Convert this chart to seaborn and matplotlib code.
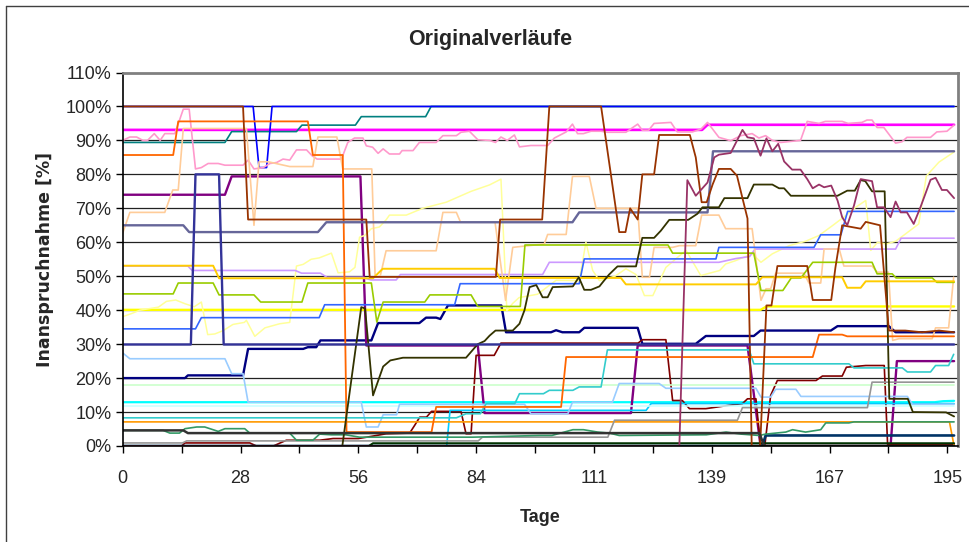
import matplotlib
matplotlib.use("Agg")
import matplotlib.pyplot as plt
import seaborn as sns
import pandas as pd
from matplotlib.lines import Line2D

# ---------------- data (day, percent) vertices ----------------
s_navy = [(0,20),(14.8,20),(15.5,20.8),(28.6,20.8),(29.8,28.6),(42.9,28.6),(44,29.1),(46,29.1),(47,31.1),(59.1,31.1),
          (60.7,36.2),(70.5,36.2),(72.1,37.8),(74.5,37.8),(75.5,37.4),(77.3,41.4),(90,41.4),(91.1,33.5),(101.8,33.5),(103,34.1),
          (104.5,33.5),(108.5,33.5),(109.7,34.8),(122.4,34.8),(123.5,30.1),(136.2,30.1),(138.6,32.4),(150,32.4),(151.6,34),(168.3,34),
          (169.9,35.3),(182.1,35.3),(183.7,33.5),(197.6,33.5)]
s_magenta = [(0,93.1),(137.7,93.1),(139,94.6),(197.6,94.6)]
s_yellow = [(0,40.1),(151.6,40.1),(153,41.1),(197.6,41.1)]
s_cyan = [(0,12.9),(193,12.9),(195,13.2),(197.6,13.3)]
s_purple = [(0,74),(24.3,74),(25.9,79.4),(56.5,79.4),(57.9,29.6),(84.4,29.6),(86,9.7),(120.8,9.7),(122.4,29.6),(148.5,29.6),
            (151.6,0),(182.5,0),(184,25),(197.6,25)]
s_darkred = [(0,0),(14,0),(14.8,0.9),(30.2,0.9),(31.8,0),(35.8,0),(38.9,1.7),(46.8,1.7),(50,2.2),(56,2.2),
             (58,2.6),(62.6,3.6),(68.2,3.8),(69.4,6.1),(70.6,8.5),(72.2,8.5),(73.4,10.2),(80.4,10.2),(81.6,3.6),(82.8,3.6),
             (84,26.7),(88.3,26.7),(89.9,30.3),(122.5,30.3),(123.5,31.3),(129.1,31.3),(130.7,13.4),(133,13.4),(134.7,11),(138.6,11),
             (144.2,12),(147.3,12.5),(148.5,13.9),(150.5,13.9),(151.6,0),(152.6,0),(154,14.9),(155.6,19.3),(164.8,19.3),(166.3,20.6),
             (171,20.6),(172,23.2),(176.6,23.7),(181,23.7),(181.8,0.4),(197.6,0.4)]
s_teal = [(0,89.4),(24.3,89.4),(25.9,92.6),(41.3,92.6),(42.6,94.5),(55.3,94.5),(56.7,97),(72,97),(73.3,100),(197.6,100)]
s_blue = [(0,100),(31,100),(32.4,82),(34.2,82),(35.5,100),(197.6,100)]
s_skyblue = [(0,0),(77,0),(77.8,10.5),(124.4,10.5),(125.6,12.5),(197.6,12.5)]
s_lightturq = [(0,11.7),(197.6,11.7)]
s_lightgreen = [(0,17.9),(197.6,17.9)]
s_lightyellow = [(0,38.1),(2.1,39),(4.1,40),(8.5,40.9),(10.4,42.6),(12.6,43),(14.8,41.9),(17,41),(18.7,42.4),(20.2,32.8),
                 (21.9,33),(23.9,34),(26.2,35.8),(28.9,36.4),(29.4,37),(31.4,32.3),(33.8,34.8),(37.3,36),(39.7,36.4),(41.3,53),
                 (42.9,53.5),(44.8,55),(46.7,55.4),(49.6,56.8),(51.2,51),(53.9,51.3),(55.2,52.6),(56.3,61.5),(57.5,62),(59.1,64),
                 (61,64.5),(62.6,66.6),(63.4,68),(67.4,68),(71.3,70),(76.9,71.8),(80.4,73.7),(82.8,75),(87.2,76.9),(89.9,78.6),
                 (91.3,39.9),(92.7,42),(94.2,43.7),(98.6,44.7),(103,48.8),(108.5,48.7),(110.1,60),(111.7,51.7),(113.3,48.7),(117,50),
                 (119.6,52.2),(122,50.5),(124,44.3),(126,44.3),(129.1,52.6),(132.3,56),(133.9,57.6),(137.4,50.2),(141.9,51.7),(143.3,53.6),
                 (145.7,54.6),(149.6,56.6),(151.7,54.1),(154.4,56.6),(158.4,59),(162.3,60.3),(165.5,62),(168.8,65),(171.9,67.9),(174.2,70.3),
                 (176.6,72.3),(177.8,57.6),(179.4,60),(181.5,59.5),(183.7,60.3),(186.1,62.5),(189.2,65.4),(191,79.5),(194,83.6),(197.6,86.6)]
s_paleblue = [(0,27.4),(1.7,25.7),(24.3,25.7),(25.9,21.3),(28.6,21.3),(29.8,12.9),(56.7,12.9),(57.9,5.6),(60.7,5.6),(61.9,9.2),
              (65.1,9.2),(65.8,12.3),(95.5,12.3),(97,9.5),(105.8,9.5),(106.9,12.9),(116.4,12.9),(118,18.4),(127.5,18.4),(129.1,17),
              (150.5,17),(151.7,14.4),(154,14.4),(155.2,16.7),(160,16.7),(161.2,14.6),(186.5,14.6),(187.7,12.3),(197.6,12.3)]
s_rose = [(0,90),(1.7,91),(3.3,91),(4.8,90),(5.9,90),(7.5,92),(8.9,90),(10,92),(12.4,92),(14.4,99.2),
          (15.8,99.2),(17.3,81.6),(18.7,82),(20.3,83.2),(22.7,83.2),(24.3,82.7),(28.6,82.7),(29.8,84.2),(31.2,81.6),(33.4,82),
          (35,83.2),(36.6,83.5),(38.1,84.5),(39.7,84.2),(41.3,87.2),(43.7,87.2),(45,85.5),(46.2,84.5),(52,84.5),(53.5,89.4),
          (55.1,90.7),(57.1,90.7),(57.9,88.4),(59.4,88),(60.7,86.2),(61.9,87.5),(63.4,86),(65.8,86),(66.4,87),(69,87),
          (70.5,89.4),(74.5,89.4),(76.1,91.4),(79.3,91.4),(80.4,92.4),(82.4,92.7),(84.4,90.2),(87.2,90),(88.6,89.4),(89.9,91),
          (91.4,90),(93.1,91.6),(94.3,88.1),(97,88.5),(101,88.5),(102.6,90.7),(105.4,92.5),(106.9,94.8),(108.1,92),(109.5,92),
          (111.3,92.7),(113.7,92.7),(115.2,92.4),(119.6,92.4),(122.4,94.8),(123.5,93),(125,93),(126.3,95),(130.3,95.3),(131.8,92.5),
          (135.4,92.5),(137.4,93.3),(139,95.3),(141.7,90.9),(144.5,89.9),(146.9,91.4),(149.6,92),(151.2,90.7),(152.8,91.4),(154.4,90),
          (156.4,89.4),(161.1,90),(162.7,95.6),(165.5,95),(167,95.6),(171,95.6),(172.4,95),(175.7,95.3),(176.9,96),(178.1,96),
          (179.3,93.8),(180.9,93.8),(183.7,89.2),(185.2,89.6),(186.4,90.9),(192,90.9),(193.5,92.5),(195.9,92.7),(197.6,94.5)]
s_lavender = [(0,53),(15.5,53),(16.5,51.7),(41,51.7),(42.5,50.9),(47,50.9),(48.5,49.7),(57,49.7),(59,48.9),(65,48.9),
              (66,50.5),(99.8,50.5),(101.4,54.1),(141.7,54.1),(145.7,55.2),(149,55.8),(150.3,58),(183.7,58),(185,61.2),(197.6,61.2)]
s_tan = [(0,62.7),(1.7,68.8),(10,68.8),(11.9,75.4),(13.2,75.4),(14.4,93.5),(29.4,93.5),(31.2,65),(32.4,83.7),(34.6,83.7),
         (39.7,82.3),(45.2,82.3),(46.4,91),(50.9,91),(52.3,81.6),(59.2,81.6),(60,49.7),(61.2,50),(62.6,57.5),(74.5,57.5),
         (76.1,68.8),(79.3,68.8),(80.3,65.9),(88.5,65.9),(91,42.9),(92.7,58.5),(100.2,59.5),(101,62.3),(105.4,62.3),(106.9,79.4),
         (110.9,79.4),(112.5,70),(122.4,70),(123.5,49.7),(125.2,49.7),(126.3,58.5),(130.7,58.5),(132.3,59),(136.2,59),(137.6,68),
         (141.7,68),(143.3,64),(149.6,64),(151.7,42.9),(152.9,46.3),(154,46.3),(155.2,50.9),(161.9,50.9),(163.1,48),(165.9,48),
         (166.7,58),(170.3,58),(171.4,53),(178.1,53),(179.3,51.2),(182,51.2),(183,31.1),(184.5,31.6),(192.4,31.6),(193.2,34.8),
         (196.3,34.8),(197.5,49.7)]
s_lightblue = [(0,34.5),(17.3,34.5),(18.7,37.8),(46.7,37.8),(48,41.6),(78.9,41.6),(80.2,47.8),(108.5,47.8),(109.7,55.1),(141,55.1),
               (141.7,58.5),(164.3,58.5),(165.9,62.2),(170.7,62.2),(172.3,69.1),(197.6,69.1)]
s_aqua = [(0,8.3),(79.3,8.3),(81.6,9.5),(85,9.5),(86.4,12.5),(93.2,12.5),(94.3,15.4),(100,15.4),(101.4,16.4),(107,16.4),
          (108.5,17.4),(113.7,17.4),(115.2,28.3),(148.9,28.3),(150,24.2),(172.6,24.2),(173.8,23),(185.3,23),(186.5,21.8),(192,21.8),
          (193.2,23.7),(196.3,23.7),(197.5,27)]
s_lime = [(0,44.8),(12,44.8),(13.2,48),(21.5,48),(22.9,44.5),(31.2,44.5),(32.8,42.4),(42.6,42.4),(44,48),(59.1,48),
          (60.4,36.5),(61.9,42.4),(71.8,42.4),(73,44.5),(82.8,44.5),(84.4,41.1),(94.5,41.1),(95.6,59.2),(129.6,59.2),(130.7,56.8),
          (150,56.8),(151.7,45.8),(156.9,45.8),(158.9,49.5),(161.2,49.5),(164,54.1),(178.1,54.1),(179.3,50.7),(182.9,50.7),(183.8,49.5),
          (192.4,49.5),(193.5,48.2),(197.6,48.2)]
s_gold = [(0,53.1),(21.5,53.1),(22.9,49.4),(59.5,49.4),(61.8,52.2),(88.4,52.2),(89.6,49.5),(118.4,49.5),(119.6,47.6),(150.5,47.6),
          (152,49.7),(171,49.7),(172.2,46.6),(175.4,46.6),(176.6,48.5),(197.6,48.5)]
s_lightorange = [(0,7.1),(196.5,7.1),(197.6,0)]
s_orange = [(0,85.7),(12,85.7),(13.2,95.6),(44,95.6),(45.2,85.7),(52.3,85.7),(53.2,4.1),(73.4,4.1),(74.5,11.5),(104.2,11.5),
            (105.4,26.2),(164,26.2),(165.5,32.8),(171,32.8),(172.2,32.3),(197.6,32.3)]
s_bluegray = [(0,65),(14.4,65),(15.8,63),(46.4,63),(48.4,65.9),(106.9,65.9),(108.5,68.8),(139,68.8),(140.3,86.8),(197.6,86.8)]
s_gray = [(0,0.9),(14.2,0.9),(15.2,1.5),(84.5,1.5),(85.5,2.6),(115.3,2.6),(116.9,7.6),(146.1,7.6),(147.3,11.3),(177,11.3),
          (178.1,18.8),(197.6,18.8)]
s_darkteal = [(0,0),(152,0),(152.8,3.1),(197.6,3.1)]
s_seagreen = [(0,4.6),(9.6,4.6),(11.2,3.8),(13.5,3.8),(14.8,5.1),(17.6,5.6),(19.5,5.6),(22.7,4.3),(24.3,5.1),(29,5.1),
              (30.2,3.8),(39.7,3.8),(41.3,1.7),(45.2,1.7),(46.8,3.5),(49.6,3.3),(53,3.3),(56.3,2.6),(83.2,2.6),(99,3.1),
              (102,3.1),(107,4.8),(109.5,4.8),(112.9,4.1),(115.7,3.8),(118,3.1),(138.7,3.3),(143.4,4.1),(147,3.5),(151.3,3.1),
              (152.8,3.5),(157.6,4.1),(159.2,4.8),(162.3,4.1),(165.9,4.8),(167.1,6.8),(172.6,6.8),(173.8,7.1),(197.6,7.1)]
s_darkgreen = [(0,0),(58.5,0),(59.5,0.8),(197.6,0.8)]
s_olive = [(0,0),(52.2,0),(56.7,40.9),(57.6,40.5),(59.5,14.9),(61.9,23.4),(63.6,25.2),(66.6,26),(81.6,26),(83.2,28.3),
           (84.4,30),(86,30.9),(87.2,32.5),(88.6,34),(92.7,34),(94.3,36),(95.5,40),(96.7,46.8),(98.3,47.4),(99.8,43.8),
           (101,43.8),(102.2,46.8),(107,47),(108.4,49.7),(109.7,46),(111.3,46),(113.3,47),(114.2,48.4),(115.6,50.5),(117.6,52.9),
           (122,52.9),(123.5,61.3),(126.3,61.3),(127.9,63.4),(129.9,66.6),(134.4,66.6),(136.6,68.4),(137.8,70.3),(141.7,70.3),(143,73),
           (148.5,73),(150,77),(154.4,77),(156,75.9),(157.2,75.9),(158.8,73.7),(169.9,73.7),(172.2,75.2),(174,75.2),(175.4,78.3),
           (176.5,78),(178.1,75),(181.1,75),(182.2,13.9),(186.6,13.9),(187.8,10),(195.7,9.9),(197.6,8.7)]
s_brown = [(0,100),(28.6,100),(29.8,66.7),(57.9,66.7),(58.7,49.8),(88.7,49.8),(89.7,66.7),(99.7,66.7),(101.4,100),(113.7,100),
           (118,63),(119.5,63),(120.6,70),(122.4,66.7),(123.5,80),(126.3,80),(127.5,91.6),(134.8,91.6),(136.2,85),(137.6,71.8),
           (138.8,71.8),(140.2,77),(141.7,81.6),(144.5,81.6),(146,79.6),(147.3,73),(148.5,67),(149.5,0),(151.5,0),(153,41.4),
           (154.2,41.4),(155.6,53),(162.7,53),(164,43),(168.4,43),(169.4,52.6),(171,65),(175.4,64),(176.6,66),(180,65),
           (182.1,34),(186,34),(190,33.5),(194,34),(197.6,33.5)]
s_plum = [(0,0),(132.3,0),(134.2,78.3),(136.2,73.7),(139,77.6),(140.6,85),(141.7,85.8),(144.5,86.3),(147.3,93.1),(148.5,90.9),
          (150,90.6),(151.6,85.5),(153,90.6),(154.4,86.8),(155.8,89),(157.2,83.8),(159.1,81.4),(161.1,81.4),(162.7,78.6),(164,75.9),
          (165.5,77),(166.7,76.2),(168.4,76.7),(169.9,72.3),(171,67.4),(172.2,65),(173.8,70.8),(175.4,78.6),(178.1,78),(179.3,70.3),
          (180.9,70.3),(182.5,67.4),(183.7,72),(184.9,68.8),(186.4,68.8),(188,65.4),(189.6,70.3),(192,78.4),(193.2,79),(194.7,75.4),
          (195.9,75.4),(197.6,73)]
s_indigo = [(0,29.9),(16.2,29.9),(17.3,80),(22.9,80),(24,29.9),(197.6,29.9)]
s_gray80 = [(0,4.6),(14.4,4.6),(15.5,3.8),(151.3,3.8),(152.5,0),(197.6,0)]

series_data = [s_navy, s_magenta, s_yellow, s_cyan, s_purple, s_darkred, s_teal, s_blue,
               s_skyblue, s_lightturq, s_lightgreen, s_lightyellow, s_paleblue, s_rose, s_lavender, s_tan,
               s_lightblue, s_aqua, s_lime, s_gold, s_lightorange, s_orange, s_bluegray, s_gray,
               s_darkteal, s_seagreen, s_darkgreen, s_olive, s_brown, s_plum, s_indigo, s_gray80]
series_colors = ["#000080", "#FF00FF", "#FFFF00", "#00FFFF", "#800080", "#800000", "#008080", "#0000FF",
                 "#00CCFF", "#CCFFFF", "#CCFFCC", "#FFFF99", "#99CCFF", "#FF99CC", "#CC99FF", "#FFCC99",
                 "#3366FF", "#33CCCC", "#99CC00", "#FFCC00", "#FF9900", "#FF6600", "#666699", "#969696",
                 "#003366", "#339966", "#003300", "#333300", "#993300", "#993366", "#333399", "#333333"]
series_widths = [1.7, 1.9, 1.7, 1.6, 1.7, 1.2, 1.2, 1.2,
                 1.2, 1.2, 1.2, 1.1, 1.2, 1.2, 1.2, 1.2,
                 1.2, 1.2, 1.2, 1.4, 1.2, 1.3, 1.7, 1.2,
                 1.9, 1.2, 1.5, 1.3, 1.3, 1.3, 1.7, 1.8]

x_tick_pos = [0, 28, 56, 84, 112, 140, 168, 196]
x_tick_labels = ["0", "28", "56", "84", "111", "139", "167", "195"]
y_ticks = list(range(0, 111, 10))

# ---------------- figure ----------------
sns.set_style("white")
plt.rcParams["font.family"] = ["Liberation Sans", "DejaVu Sans"]

fig = plt.figure(figsize=(9.69, 5.42), dpi=100)
ax = fig.add_axes([122.7 / 969, 1 - 446 / 542, (958.3 - 122.7) / 969, (446 - 72.5) / 542])

for yv in y_ticks[1:-1]:
    ax.axhline(yv, color="#222222", lw=0.9, zorder=0)

for i, (pts, col, lw) in enumerate(zip(series_data, series_colors, series_widths)):
    df = pd.DataFrame(pts, columns=["Tag", "Wert"])
    sns.lineplot(data=df, x="Tag", y="Wert", color=col, lw=lw, sort=False,
                 estimator=None, ax=ax, zorder=2 + i * 0.01)

ax.set_xlim(0, 198.6)
ax.set_ylim(0, 110)
ax.set_xticks(x_tick_pos)
ax.set_xticklabels(x_tick_labels)
ax.set_xticks(range(14, 197, 28), minor=True)
ax.set_yticks(y_ticks)
ax.set_yticklabels([f"{v}%" for v in y_ticks])
ax.tick_params(axis="both", which="both", direction="out", length=5, width=1, color="black",
               labelsize=13, bottom=True, left=True)
ax.tick_params(axis="x", pad=12)
ax.tick_params(axis="y", pad=3)

for side in ["left", "bottom"]:
    ax.spines[side].set_color("black")
    ax.spines[side].set_linewidth(1.2)
for side in ["top", "right"]:
    ax.spines[side].set_color("#808080")
    ax.spines[side].set_linewidth(2)
    ax.spines[side].set_visible(True)

ax.set_xlabel("Tage", fontsize=13, fontweight="bold", labelpad=16)
ax.set_ylabel("Inanspruchnahme [%]", fontsize=12.5, fontweight="bold", labelpad=8,
              family=["DejaVu Sans"])
fig.text(490 / 969, 1 - 39 / 542, "Originalverläufe", ha="center", va="center",
         fontsize=15.5, fontweight="bold")

# chart area frame (top and left edges visible)
fig.add_artist(Line2D([6 / 969, 1.0], [1 - 6 / 542, 1 - 6 / 542], transform=fig.transFigure,
                      color="#404040", lw=1))
fig.add_artist(Line2D([6 / 969, 6 / 969], [0, 1 - 6 / 542], transform=fig.transFigure,
                      color="#404040", lw=1))

fig.savefig("out.png", dpi=100)
